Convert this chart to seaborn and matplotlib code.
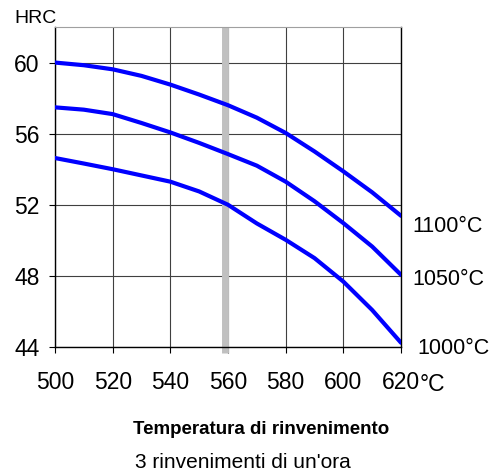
import pandas as pd
import matplotlib
matplotlib.use('Agg')
import matplotlib.pyplot as plt
import seaborn as sns

# temperature (°C) and hardness (HRC)
temps = [500, 510, 520, 530, 540, 550, 560, 570, 580, 590, 600, 610, 620]
hrc_1100 = [60.0, 59.85, 59.62, 59.25, 58.76, 58.2, 57.6, 56.9, 56.04, 55.0, 53.88, 52.7, 51.38]
hrc_1050 = [57.48, 57.35, 57.1, 56.6, 56.07, 55.48, 54.85, 54.2, 53.3, 52.2, 50.97, 49.65, 48.06]
hrc_1000 = [54.63, 54.32, 54.0, 53.65, 53.3, 52.75, 52.0, 50.95, 50.03, 49.0, 47.68, 46.08, 44.24]
series_labels = ['1100°C', '1050°C', '1000°C']
label_y = [50.78, 47.77, 43.94]
label_x = [624.0, 624.0, 625.8]
x_ticks = [500, 520, 540, 560, 580, 600, 620]
y_ticks = [44, 48, 52, 56, 60]
marker_temp = 559

df = pd.DataFrame({
    'temp': temps * 3,
    'hrc': hrc_1100 + hrc_1050 + hrc_1000,
    'austenitizing': sum([[s] * len(temps) for s in series_labels], []),
})

sns.set_style('white')
plt.rcParams['font.family'] = ['Liberation Sans', 'DejaVu Sans']
plt.rcParams['text.color'] = 'black'

fig = plt.figure(figsize=(4.92, 4.73), dpi=100)
ax = fig.add_axes([55 / 492, 1 - 347 / 473, 346 / 492, 320 / 473])

ax.axvline(marker_temp, ymin=-0.02, ymax=1, color='#c0c0c0', lw=5,
           solid_capstyle='butt', clip_on=False, zorder=1)
sns.lineplot(data=df, x='temp', y='hrc', hue='austenitizing',
             palette=['#0000ff'] * 3, linewidth=3, legend=False, ax=ax, zorder=3)

ax.set_xlim(500, 620)
ax.set_ylim(44, 62)
ax.set_xticks(x_ticks)
ax.set_yticks(y_ticks)
ax.grid(True, color='#404040', lw=0.8)
ax.set_axisbelow(True)
for side in ['left', 'right', 'bottom']:
    ax.spines[side].set_color('black')
    ax.spines[side].set_linewidth(1)
ax.spines['top'].set_color('#a0a0a0')
ax.tick_params(axis='both', direction='out', length=4.5, width=0.8, colors='black',
               labelcolor='black', labelsize=16.5, left=True, bottom=True)
ax.tick_params(axis='x', pad=12.5)
ax.tick_params(axis='y', pad=6.5)
ax.set_xlabel('')
ax.set_ylabel('')

for x, y, s in zip(label_x, label_y, series_labels):
    ax.text(x, y, s, fontsize=15.5, va='center', ha='left', clip_on=False)

fig.text(420 / 492, 1 - 384 / 473, '°C', fontsize=16.5, va='center', ha='left')
fig.text(36 / 492, 1 - 18.5 / 473, 'HRC', fontsize=14, va='center', ha='center')
fig.text(261 / 492, 1 - 429 / 473, 'Temperatura di rinvenimento', fontsize=13.5,
         fontweight='bold', va='center', ha='center')
fig.text(243 / 492, 1 - 462 / 473, "3 rinvenimenti di un'ora", fontsize=15,
         va='center', ha='center')

fig.savefig('out.png', dpi=100)
